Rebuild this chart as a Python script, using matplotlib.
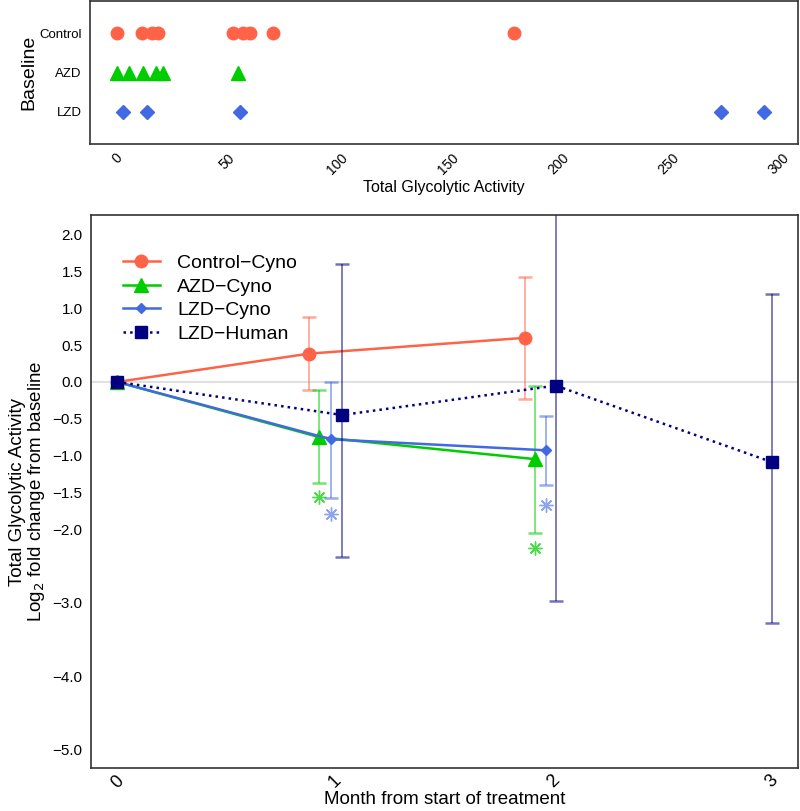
import matplotlib
matplotlib.use("Agg")
import matplotlib.pyplot as plt

plt.rcParams["font.family"] = ["Liberation Sans", "DejaVu Sans"]

# baseline total glycolytic activity per group
base_groups = ["Control", "AZD", "LZD"]
base_control = [0, 11.3, 15.9, 18.6, 52.6, 57.1, 60.3, 70.7, 180]
base_azd = [0, 5.4, 11.8, 17.7, 20.8, 54.8]
base_lzd = [2.7, 13.6, 55.7, 273.7, 293.2]

# log2 fold change from baseline, by month (x slightly dodged per series)
series_names = ["Control\u2212Cyno", "AZD\u2212Cyno", "LZD\u2212Cyno", "LZD\u2212Human"]
ctrl_x = [0, 0.88, 1.87]
ctrl_y = [0, 0.385, 0.60]
ctrl_lo = [0, -0.11, -0.23]
ctrl_hi = [0, 0.88, 1.43]
azd_x = [0, 0.925, 1.915]
azd_y = [0, -0.75, -1.05]
azd_lo = [0, -1.38, -2.05]
azd_hi = [0, -0.11, -0.05]
azd_star = [-1.57, -2.26]
lzc_x = [0, 0.98, 1.965]
lzc_y = [0, -0.78, -0.93]
lzc_lo = [0, -1.575, -1.40]
lzc_hi = [0, 0.0, -0.46]
lzc_star = [-1.79, -1.68]
hum_x = [0, 1.03, 2.01, 3.0]
hum_y = [0, -0.45, -0.05, -1.09]
hum_lo = [0, -2.38, -2.98, -3.28]
hum_hi = [0, 1.60, 2.80, 1.20]

months = [0, 1, 2, 3]
yticks = [2.0, 1.5, 1.0, 0.5, 0.0, -0.5, -1.0, -1.5, -2.0, -3.0, -4.0, -5.0]

c_ctrl, c_azd, c_lzc, c_hum = "#FF6347", "#00CD00", "#4169E1", "#000080"

fig = plt.figure(figsize=(8, 8.11), dpi=100)
W, H = 800, 811

# ---- top panel: baseline strip ----
ax1 = fig.add_axes([90 / W, 1 - 144 / H, 708 / W, 143 / H])
ax1.plot(base_control, [1] * len(base_control), "o", color=c_ctrl, ms=9, ls="none")
ax1.plot(base_azd, [2] * len(base_azd), "^", color=c_azd, ms=10, ls="none")
ax1.plot(base_lzd, [3] * len(base_lzd), "D", color=c_lzc, ms=7, ls="none")
ax1.set_ylim(3.82, 0.18)
ax1.set_xlim(-12.2, 308.6)
ax1.set_yticks([1, 2, 3])
ax1.set_yticklabels(base_groups, fontsize=9.5)
ax1.set_xticks([0, 50, 100, 150, 200, 250, 300])
ax1.set_xticklabels(["0", "50", "100", "150", "200", "250", "300"],
                    rotation=45, ha="center", va="top", fontsize=10)
ax1.tick_params(length=0, pad=6)
ax1.tick_params(axis="x", pad=5)
ax1.set_ylabel("Baseline", fontsize=14, labelpad=1)
ax1.set_xlabel("Total Glycolytic Activity", fontsize=11.5, labelpad=2)
for s in ax1.spines.values():
    s.set_color("#333333")
    s.set_linewidth(1.2)

# ---- bottom panel: fold change over time ----
ax2 = fig.add_axes([91 / W, 1 - 768 / H, 707 / W, 553 / H])
ax2.axhline(0, color="#e0e0e0", lw=1.5, zorder=0)

def draw(x, y, lo, hi, color, marker, ms, ls, ecolor, label):
    yerr = [[yy - l for yy, l in zip(y, lo)], [h - yy for yy, h in zip(y, hi)]]
    ax2.errorbar(x[1:], y[1:], yerr=[yerr[0][1:], yerr[1][1:]], fmt="none",
                 ecolor=ecolor, alpha=0.55, elinewidth=1.3, capsize=5, capthick=1.8)
    ax2.plot(x, y, color=color, marker=marker, ms=ms, ls=ls, lw=1.8, label=label)

draw(ctrl_x, ctrl_y, ctrl_lo, ctrl_hi, c_ctrl, "o", 9, "-", c_ctrl, series_names[0])
draw(azd_x, azd_y, azd_lo, azd_hi, c_azd, "^", 9.5, "-", c_azd, series_names[1])
draw(lzc_x, lzc_y, lzc_lo, lzc_hi, c_lzc, "D", 5.5, "-", c_lzc, series_names[2])
draw(hum_x, hum_y, hum_lo, hum_hi, c_hum, "s", 8.5, ":", c_hum, series_names[3])

ax2.plot(azd_x[1:], azd_star, ls="none", marker=(8, 2, 0), ms=10, mew=1,
         color=c_azd, alpha=0.7)
ax2.plot(lzc_x[1:], lzc_star, ls="none", marker=(8, 2, 0), ms=10, mew=1,
         color=c_lzc, alpha=0.6)

ax2.set_xlim(-0.12, 3.12)
ax2.set_ylim(-5.25, 2.27)
ax2.set_yticks(yticks)
ax2.set_yticklabels([f"{t:.1f}".replace("-", "\u2212") for t in yticks], fontsize=11)
ax2.set_xticks(months)
ax2.set_xticklabels([str(m) for m in months], rotation=45, ha="center",
                    va="top", fontsize=13)
ax2.tick_params(length=0, pad=6)
ax2.tick_params(axis="x", pad=3)
ax2.set_xlabel("Month from start of treatment", fontsize=13.5, labelpad=0)
ax2.set_ylabel("Total Glycolytic Activity\nLog$_2$ fold change from baseline",
               fontsize=13.5, labelpad=4, linespacing=1.0)
for s in ax2.spines.values():
    s.set_color("#333333")
    s.set_linewidth(1.2)

ax2.legend(loc="upper left", bbox_to_anchor=(0.02, 0.96), frameon=False,
           fontsize=14, handlelength=1.9, labelspacing=0.3, handletextpad=0.9)

fig.savefig("out.png", dpi=100)
